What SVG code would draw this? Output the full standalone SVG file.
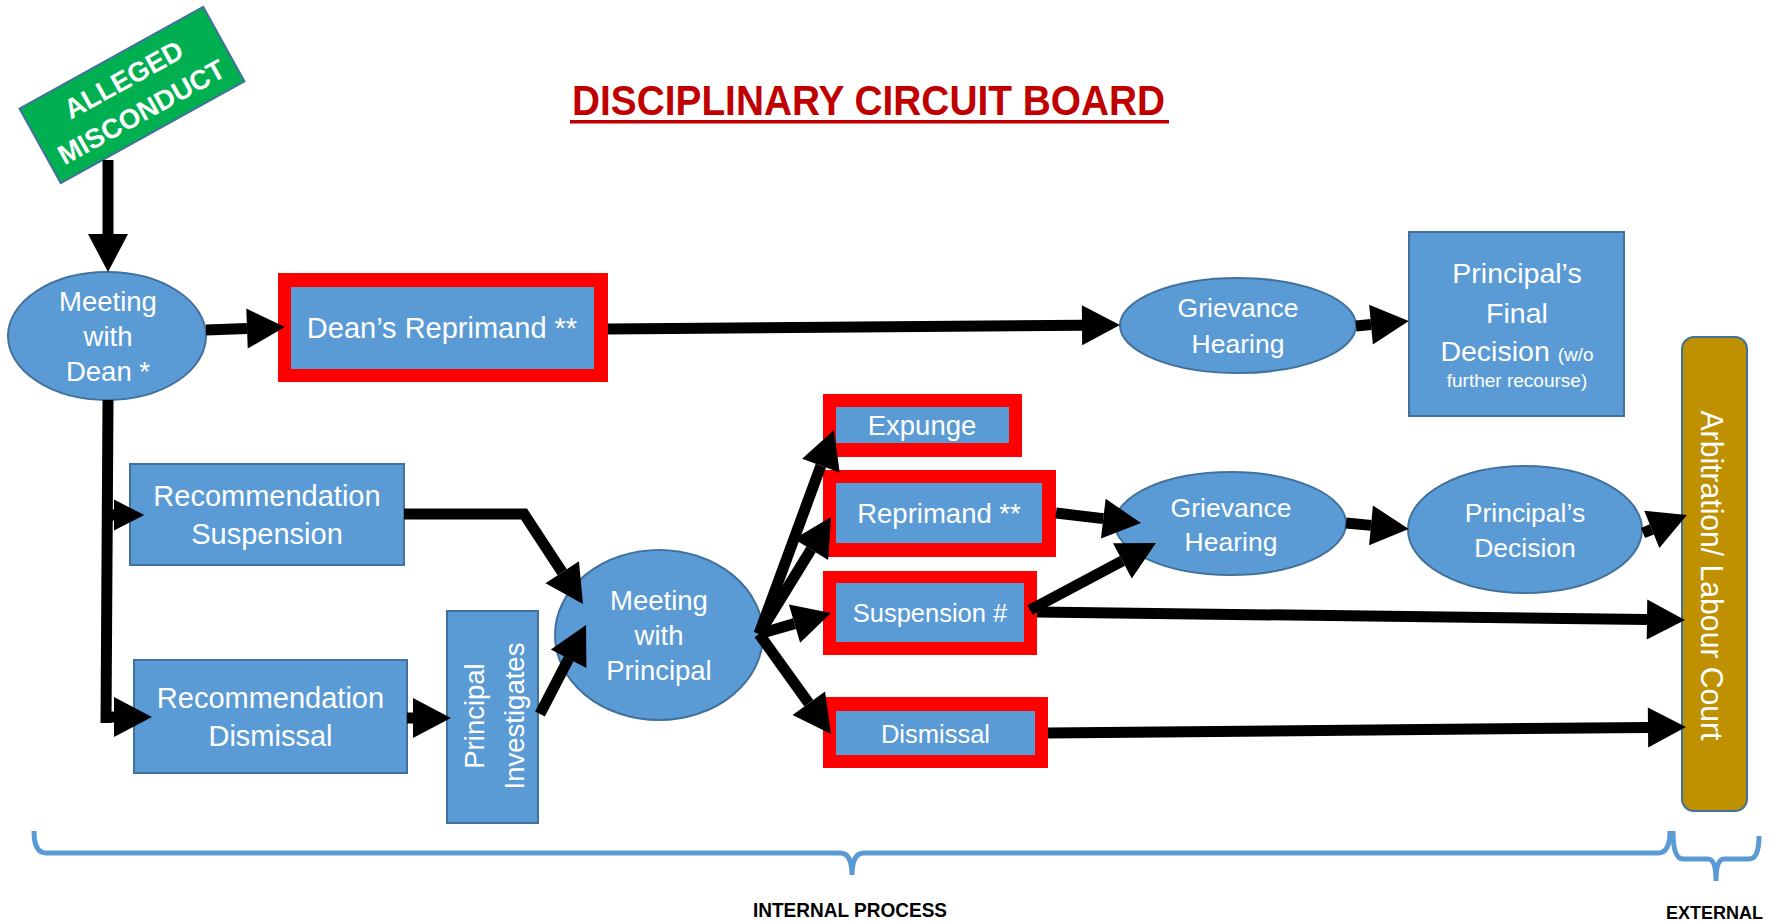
<svg xmlns="http://www.w3.org/2000/svg" width="1775" height="922" viewBox="0 0 1775 922">
<style>
  .box { fill: #5B9BD5; stroke: #41719C; stroke-width: 2; }
  .red { fill: #FF0000; }
  .t { fill: #FFFFFF; font-family: "Liberation Sans", Arial, sans-serif; text-anchor: middle; }
  .conn { fill: none; stroke: #000000; stroke-width: 11; stroke-linejoin: miter; }
  .brace { fill: none; stroke: #5B9BD5; stroke-width: 5; }
  .lbl { fill: #000000; font-family: "Liberation Sans", Arial, sans-serif; font-weight: bold; text-anchor: middle; }
</style>
<defs>
  <marker id="ah" markerUnits="strokeWidth" markerWidth="3.5" markerHeight="3.7" refX="0" refY="1.82" orient="auto" overflow="visible">
    <path d="M0,0 L3.45,1.82 L0,3.64 Z" fill="#000000"/>
  </marker>
  <marker id="ahs" markerUnits="strokeWidth" markerWidth="2.8" markerHeight="3" refX="0" refY="1.4" orient="auto" overflow="visible">
    <path d="M0,0 L2.75,1.4 L0,2.8 Z" fill="#000000"/>
  </marker>
</defs>
<rect width="1775" height="922" fill="#FFFFFF"/>

<g id="title">
  <text x="868.5" y="115" font-family="Liberation Sans, Arial, sans-serif" font-weight="bold" font-size="42" fill="#C00000" text-anchor="middle" textLength="593" lengthAdjust="spacingAndGlyphs">DISCIPLINARY CIRCUIT BOARD</text>
  <rect x="570" y="120" width="599" height="3.5" fill="#C00000"/>
</g>

<g id="alleged-misconduct" transform="translate(132,95) rotate(-29)">
  <rect x="-105" y="-42.5" width="210" height="85" fill="#00B050" stroke="#41719C" stroke-width="2"/>
  <text class="t" x="0" y="-8" font-size="27.5" font-weight="bold">ALLEGED</text>
  <text class="t" x="0" y="29" font-size="27.5" font-weight="bold">MISCONDUCT</text>
</g>

<g id="meeting-dean">
  <ellipse class="box" cx="107" cy="336" rx="99" ry="64"/>
  <text class="t" x="108" y="311" font-size="27.5">Meeting</text>
  <text class="t" x="108" y="346" font-size="27.5">with</text>
  <text class="t" x="108" y="381" font-size="27.5">Dean *</text>
</g>

<g id="deans-reprimand">
  <rect class="red" x="278" y="273" width="330" height="109"/>
  <rect x="291" y="287" width="303" height="82" fill="#5B9BD5"/>
  <text class="t" x="442" y="338" font-size="29">Dean’s Reprimand **</text>
</g>

<g id="grievance-1">
  <ellipse class="box" cx="1238" cy="325.5" rx="118" ry="47.5"/>
  <text class="t" x="1238" y="317" font-size="26.5">Grievance</text>
  <text class="t" x="1238" y="353" font-size="26.5">Hearing</text>
</g>

<g id="principals-final-decision">
  <rect class="box" x="1409" y="232" width="215" height="184"/>
  <text class="t" x="1517" y="283" font-size="28.5">Principal’s</text>
  <text class="t" x="1517" y="323" font-size="28.5">Final</text>
  <text class="t" x="1517" y="361" font-size="28.5">Decision <tspan font-size="19">(w/o</tspan></text>
  <text class="t" x="1517" y="387" font-size="19">further recourse)</text>
</g>

<g id="arbitration">
  <rect x="1682" y="337" width="65" height="474" rx="12" ry="12" fill="#BF9000" stroke="#41719C" stroke-width="2"/>
  <text class="t" transform="translate(1701,575.5) rotate(90)" x="0" y="0" font-size="31" textLength="330" lengthAdjust="spacingAndGlyphs">Arbitration/ Labour Court</text>
</g>

<g id="rec-suspension">
  <rect class="box" x="130" y="464" width="274" height="101"/>
  <text class="t" x="267" y="506" font-size="29">Recommendation</text>
  <text class="t" x="267" y="544" font-size="29">Suspension</text>
</g>

<g id="rec-dismissal">
  <rect class="box" x="134" y="660" width="273" height="113"/>
  <text class="t" x="270.5" y="708" font-size="29">Recommendation</text>
  <text class="t" x="270.5" y="746" font-size="29">Dismissal</text>
</g>

<g id="principal-investigates">
  <rect class="box" x="447" y="611" width="91" height="212"/>
  <text class="t" transform="translate(484,716) rotate(-90)" x="0" y="0" font-size="27.5">Principal</text>
  <text class="t" transform="translate(524,716) rotate(-90)" x="0" y="0" font-size="27.5">Investigates</text>
</g>

<g id="meeting-principal">
  <ellipse class="box" cx="659" cy="635" rx="104" ry="85"/>
  <text class="t" x="659" y="610" font-size="27.5">Meeting</text>
  <text class="t" x="659" y="645" font-size="27.5">with</text>
  <text class="t" x="659" y="680" font-size="27.5">Principal</text>
</g>

<g id="expunge">
  <rect class="red" x="823" y="394" width="199" height="63"/>
  <rect x="836" y="407" width="173" height="36" fill="#5B9BD5"/>
  <text class="t" x="922" y="435" font-size="27.5">Expunge</text>
</g>

<g id="reprimand">
  <rect class="red" x="823" y="470" width="233" height="87"/>
  <rect x="836" y="483" width="206" height="60" fill="#5B9BD5"/>
  <text class="t" x="939" y="523" font-size="27.5">Reprimand **</text>
</g>

<g id="suspension">
  <rect class="red" x="823" y="571" width="214" height="84"/>
  <rect x="836" y="583" width="188" height="59" fill="#5B9BD5"/>
  <text class="t" x="930" y="622" font-size="25.5">Suspension #</text>
</g>

<g id="dismissal">
  <rect class="red" x="823" y="697" width="225" height="71"/>
  <rect x="836" y="711" width="199" height="44" fill="#5B9BD5"/>
  <text class="t" x="935.5" y="743" font-size="25.5">Dismissal</text>
</g>

<g id="grievance-2">
  <ellipse class="box" cx="1230.5" cy="523.5" rx="115.5" ry="51.5"/>
  <text class="t" x="1231" y="517" font-size="26.5">Grievance</text>
  <text class="t" x="1231" y="551" font-size="26.5">Hearing</text>
</g>

<g id="principals-decision">
  <ellipse class="box" cx="1525" cy="529.5" rx="117" ry="63.5"/>
  <text class="t" x="1525" y="522" font-size="26.5">Principal’s</text>
  <text class="t" x="1525" y="557" font-size="26.5">Decision</text>
</g>

<g id="connectors">
  <path class="conn" d="M108,160 L108,234" marker-end="url(#ah)"/>
  <path class="conn" d="M206,330 L247,328.5" marker-end="url(#ah)"/>
  <path class="conn" d="M608,329 L1082,325.3" marker-end="url(#ah)"/>
  <path class="conn" d="M1356,326 L1371,324.6" marker-end="url(#ah)"/>
  <path class="conn" d="M108,400 L106,723"/>
  <path class="conn" d="M103,515 L114,515" marker-end="url(#ahs)"/>
  <path class="conn" d="M101,717 L114,717" marker-end="url(#ah)"/>
  <path class="conn" d="M407,718 L413,718" marker-end="url(#ah)"/>
  <path class="conn" d="M540,714 L568.6,658.7" marker-end="url(#ah)"/>
  <path class="conn" d="M404,514 L524,514 L562.2,572.2" marker-end="url(#ah)"/>
  <path class="conn" d="M759,634 L820.9,465.7" marker-end="url(#ah)"/>
  <path class="conn" d="M759,634 L811.1,549.4" marker-end="url(#ah)"/>
  <path class="conn" d="M759,634 L794.5,623.6" marker-end="url(#ah)"/>
  <path class="conn" d="M759,634 L808.8,703.2" marker-end="url(#ah)"/>
  <path class="conn" d="M1056,513 L1103.3,518.6" marker-end="url(#ah)"/>
  <path class="conn" d="M1030,610 L1122.4,560.9" marker-end="url(#ah)"/>
  <path class="conn" d="M1037,612 L1647,619.5" marker-end="url(#ah)"/>
  <path class="conn" d="M1048,733 L1648,727.4" marker-end="url(#ah)"/>
  <path class="conn" d="M1346,523 L1371,525.4" marker-end="url(#ah)"/>
  <path class="conn" d="M1643,533 L1651.8,529.4" marker-end="url(#ah)"/>
</g>

<g id="internal-brace">
  <path class="brace" d="M34,831 Q34,853 46,853 L840,853 Q852,853 852,875 Q852,853 864,853 L1658,853 Q1670,853 1670,831"/>
  <text class="lbl" x="850" y="917" font-size="20" textLength="194" lengthAdjust="spacingAndGlyphs">INTERNAL PROCESS</text>
</g>

<g id="external-brace">
  <path class="brace" d="M1673,831 Q1673,859 1683,859 L1708,859 Q1716,859 1716,881 Q1716,859 1724,859 L1749,859 Q1759,859 1759,836"/>
  <text class="lbl" x="1714.5" y="919" font-size="19" textLength="97" lengthAdjust="spacingAndGlyphs">EXTERNAL</text>
</g>
</svg>
